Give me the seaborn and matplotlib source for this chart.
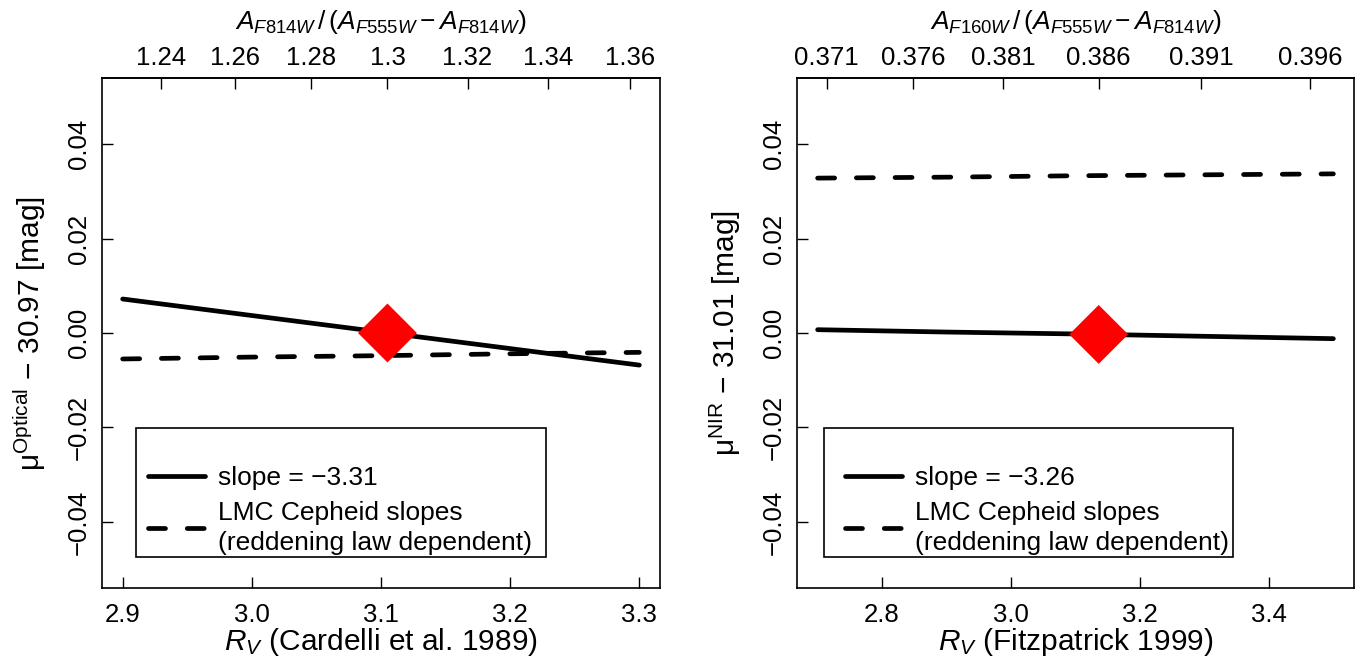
import matplotlib
matplotlib.use("Agg")
import matplotlib.pyplot as plt
from matplotlib.lines import Line2D
from matplotlib.patches import Rectangle
import seaborn as sns

# left panel: Cardelli et al. 1989 law
left_rv = [2.9, 3.0, 3.1, 3.2, 3.3]
left_slope_mu = [0.0072, 0.0037, 0.0002, -0.0033, -0.0068]
left_lmc_mu = [-0.0055, -0.0051, -0.0048, -0.0044, -0.0041]
left_star = (3.105, 0.0)
left_top_rv = [2.930, 2.987, 3.046, 3.105, 3.167, 3.229, 3.293]
left_top_labels = ["1.24", "1.26", "1.28", "1.3", "1.32", "1.34", "1.36"]
left_xticks = [2.9, 3.0, 3.1, 3.2, 3.3]
left_xlabels = ["2.9", "3.0", "3.1", "3.2", "3.3"]

# right panel: Fitzpatrick 1999 law
right_rv = [2.7, 2.9, 3.1, 3.3, 3.5]
right_slope_mu = [0.0007, 0.0002, -0.0002, -0.0007, -0.0012]
right_lmc_mu = [0.0328, 0.0330, 0.0333, 0.0335, 0.0337]
right_star = (3.136, -0.0003)
right_top_rv = [2.714, 2.848, 2.988, 3.136, 3.295, 3.464]
right_top_labels = ["0.371", "0.376", "0.381", "0.386", "0.391", "0.396"]
right_xticks = [2.8, 3.0, 3.2, 3.4]
right_xlabels = ["2.8", "3.0", "3.2", "3.4"]

yticks = [-0.04, -0.02, 0.0, 0.02, 0.04]
ylabels = ["\u22120.04", "\u22120.02", "0.00", "0.02", "0.04"]

sns.set_style("white")
plt.rcParams["font.family"] = ["Liberation Sans", "DejaVu Sans"]
plt.rcParams["mathtext.fontset"] = "custom"
plt.rcParams["mathtext.rm"] = "Liberation Sans"
plt.rcParams["mathtext.it"] = "Liberation Sans:italic"
for key in ["text.color", "axes.labelcolor", "xtick.color", "ytick.color",
            "axes.edgecolor"]:
    plt.rcParams[key] = "black"

TICK_FS = 18.5
LAB_FS = 21.5
LW = 3.4
DASH = (3.6, 4.6)


def draw_panel(ax, rv, slope_mu, lmc_mu, star, xlim, xticks, xlabels,
               top_rv, top_labels, xlabel, ylabel, toplabel, slope_text,
               box_x, handle_x):
    sns.lineplot(x=rv, y=slope_mu, ax=ax, color="black", lw=LW,
                 solid_capstyle="round")
    sns.lineplot(x=rv, y=lmc_mu, ax=ax, color="black", lw=LW)
    ax.lines[-1].set_dashes(DASH)
    ax.lines[-1].set_dash_capstyle("round")
    sns.scatterplot(x=[star[0]], y=[star[1]], ax=ax, marker="D", s=30 ** 2,
                    color="#ff0000", edgecolor="none", zorder=5)

    ax.set_xlim(*xlim)
    ax.set_ylim(-0.054, 0.054)
    ax.set_xticks(xticks, labels=xlabels)
    ax.set_yticks(yticks, labels=ylabels)
    ax.tick_params(axis="both", direction="in", length=7.7, width=1,
                   labelsize=TICK_FS, colors="black", bottom=True,
                   left=True, top=False, right=False)
    ax.tick_params(axis="x", pad=11)
    ax.tick_params(axis="y", pad=8, labelrotation=90)
    for lab in ax.get_yticklabels():
        lab.set_va("center")
    for sp in ax.spines.values():
        sp.set_linewidth(1.2)
        sp.set_color("black")

    sec = ax.secondary_xaxis("top")
    sec.set_xticks(top_rv, labels=top_labels)
    sec.tick_params(direction="in", length=7.7, width=1, pad=6,
                    labelsize=TICK_FS, top=True, colors="black")
    sec.spines["top"].set_linewidth(1.2)

    ax.set_xlabel(xlabel, fontsize=LAB_FS)
    ax.xaxis.set_label_coords(0.5, -0.075)
    ax.set_ylabel(ylabel, fontsize=LAB_FS)
    ax.yaxis.set_label_coords(-0.097, 0.5)
    ax.text(0.5, 1.11, toplabel, transform=ax.transAxes, ha="center",
            va="center", fontsize=19)

    ax.add_patch(Rectangle((box_x, 0.061), 0.735, 0.253,
                           transform=ax.transAxes, fill=False,
                           edgecolor="black", lw=1.2, zorder=6))
    handles = [
        Line2D([], [], color="black", lw=LW, solid_capstyle="round"),
        Line2D([], [], color="black", lw=LW, dashes=DASH,
               dash_capstyle="round"),
    ]
    leg = ax.legend(handles,
                    [slope_text, "LMC Cepheid slopes\n(reddening law dependent)"],
                    loc="upper left", bbox_to_anchor=(handle_x, 0.239),
                    bbox_transform=ax.transAxes, frameon=False, borderpad=0,
                    borderaxespad=0, handlelength=2.16, handletextpad=0.5,
                    labelspacing=0.42, fontsize=19)
    for t in leg.get_texts():
        t.set_linespacing(1.32)


fig = plt.figure(figsize=(13.58, 6.62), dpi=100)
ax1 = fig.add_axes([102 / 1358, 1 - 588 / 662, 558 / 1358, 510 / 662])
ax2 = fig.add_axes([797 / 1358, 1 - 588 / 662, 557 / 1358, 510 / 662])

draw_panel(ax1, left_rv, left_slope_mu, left_lmc_mu, left_star,
           (2.884, 3.316), left_xticks, left_xlabels,
           left_top_rv, left_top_labels,
           r"$R_V$ (Cardelli et al. 1989)",
           r"μ$^{\mathrm{Optical}}$ $-$ 30.97 [mag]",
           r"$A_{F814W}\,/\,(A_{F555W}-A_{F814W})$",
           "slope = \u22123.31", 0.061, 0.0824)

draw_panel(ax2, right_rv, right_slope_mu, right_lmc_mu, right_star,
           (2.668, 3.532), right_xticks, right_xlabels,
           right_top_rv, right_top_labels,
           r"$R_V$ (Fitzpatrick 1999)",
           r"μ$^{\mathrm{NIR}}$ $-$ 31.01 [mag]",
           r"$A_{F160W}\,/\,(A_{F555W}-A_{F814W})$",
           "slope = \u22123.26", 0.0485, 0.086)

fig.savefig("out.png", dpi=100)
